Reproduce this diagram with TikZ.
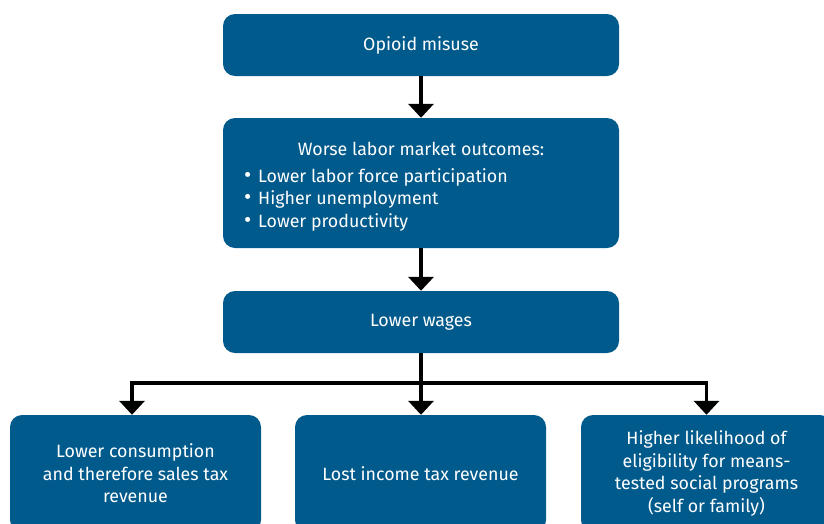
\documentclass[tikz,border=0pt]{standalone}
\usepackage{fontspec}
\setmainfont{Fira Sans}
\usetikzlibrary{arrows.meta}
\definecolor{boxblue}{RGB}{0,90,140}
\newcommand{\bul}{\makebox[14pt][l]{\raisebox{-0.3pt}{\scalebox{1.25}{\textbullet}}}}
\tikzset{
  box/.style={fill=boxblue, rounded corners=12pt, text=white, align=center,
    font=\fontsize{17.8}{22.5}\selectfont, inner sep=0pt},
  boxtext/.style={text=white, font=\fontsize{17.8}{22.5}\selectfont, inner sep=0pt},
  conn/.style={draw=black, line width=3.5pt},
  arr/.style={conn, -{Triangle[width=25pt,length=14pt]}, shorten >=0pt},
}
\begin{document}
\begin{tikzpicture}[x=1pt,y=1pt]
\clip (0,0) rectangle (824,-523);
\node[box, minimum width=396pt, minimum height=62pt] (b1) at (421,-45) {Opioid misuse};
\node[box, minimum width=396pt, minimum height=130pt] (b2) at (421,-183) {};
\node[boxtext] (b2h) at (421,-149) {Worse labor market outcomes:};
\node[boxtext, align=left, anchor=north west] (b2l) at (244,-168)
  {\bul Lower labor force participation\\ \bul Higher unemployment\\ \bul Lower productivity};
\node[box, minimum width=396pt, minimum height=62pt] (b3) at (421,-322) {Lower wages};
\node[box, minimum width=251pt, minimum height=117pt] (b4) at (135.5,-473.5) {Lower consumption\\and therefore sales tax\\revenue};
\node[box, minimum width=251pt, minimum height=117pt] (b5) at (420.5,-473.5) {Lost income tax revenue};
\node[box, minimum width=251pt, minimum height=117pt] (b6) at (706.5,-473.5) {Higher likelihood of\\eligibility for means-\\tested social programs\\(self or family)};
\draw[arr] (b1.south) -- (b2.north);
\draw[arr] (b2.south) -- (b3.north);
\coordinate (j) at ([yshift=-30pt]b3.south);
\draw[arr] (b3.south) -- (b3.south |- b5.north);
\draw[arr] (j) -| ([xshift=-3.5pt]b4.north);
\draw[arr] (j) -| (b6.north);
\end{tikzpicture}
\end{document}
